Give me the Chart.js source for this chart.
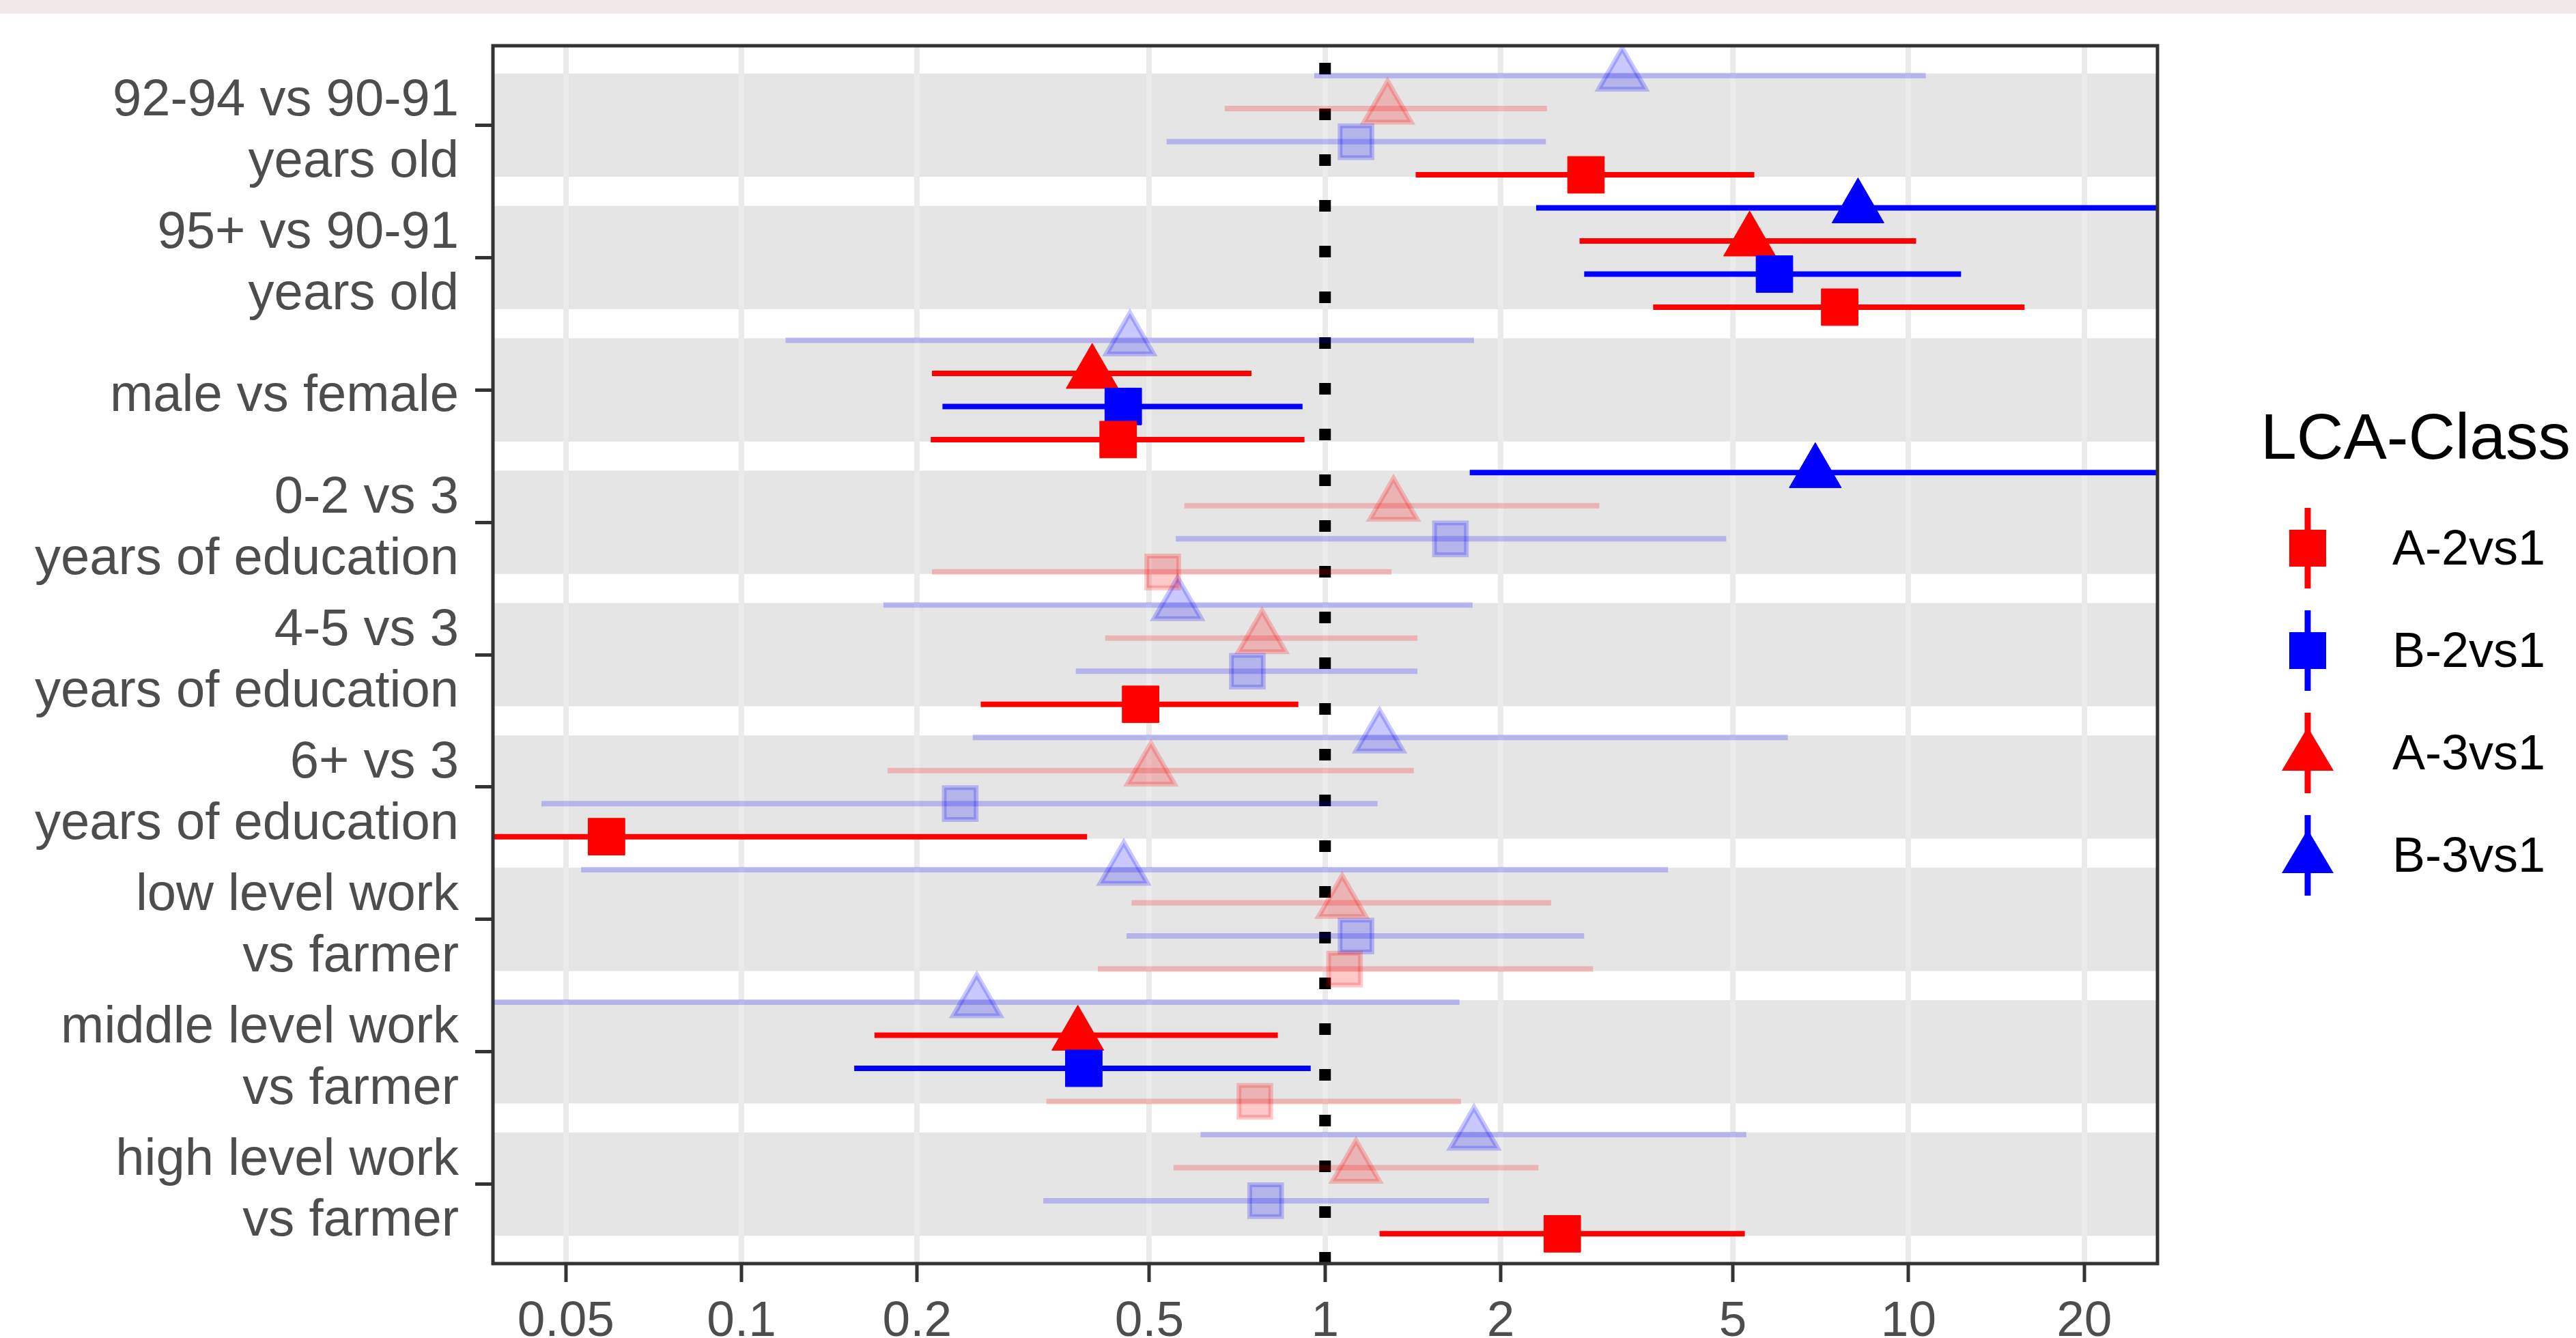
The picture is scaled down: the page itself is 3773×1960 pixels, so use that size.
<!DOCTYPE html>
<html>
<head>
<meta charset="utf-8">
<script src="https://cdn.jsdelivr.net/npm/chart.js@4.4.1/dist/chart.umd.min.js"></script>
<style>
  body { margin: 0; background: #fff; }
  canvas { display: block; }
</style>
</head>
<body>
<canvas id="forest" width="3773" height="1960"></canvas>
<script>
// categories, top to bottom
const categories = [
  ["92-94 vs 90-91", "years old"],
  ["95+ vs 90-91", "years old"],
  ["male vs female"],
  ["0-2 vs 3", "years of education"],
  ["4-5 vs 3", "years of education"],
  ["6+ vs 3", "years of education"],
  ["low level work", "vs farmer"],
  ["middle level work", "vs farmer"],
  ["high level work", "vs farmer"]
];

const xTicks = [0.05, 0.1, 0.2, 0.5, 1, 2, 5, 10, 20];

// odds ratios with 95% CI
const a2Est = [2.80, 7.62, 0.442, 0.527, 0.483, 0.0587, 1.08, 0.758, 2.55];
const a2Low = [1.43, 3.65, 0.211, 0.212, 0.257, 0.03, 0.408, 0.333, 1.24];
const a2High = [5.44, 15.8, 0.922, 1.30, 0.90, 0.391, 2.88, 1.71, 5.24];

const b2Est = [1.13, 5.89, 0.451, 1.64, 0.736, 0.237, 1.13, 0.386, 0.791];
const b2Low = [0.535, 2.78, 0.221, 0.555, 0.374, 0.0454, 0.457, 0.156, 0.329];
const b2High = [2.39, 12.3, 0.915, 4.87, 1.44, 1.23, 2.78, 0.945, 1.91];

const a3Est = [1.28, 5.34, 0.399, 1.31, 0.78, 0.503, 1.07, 0.377, 1.13];
const a3Low = [0.673, 2.73, 0.212, 0.574, 0.420, 0.178, 0.466, 0.169, 0.55];
const a3High = [2.40, 10.3, 0.748, 2.95, 1.44, 1.42, 2.44, 0.830, 2.32];

const b3Est = [3.23, 8.19, 0.463, 6.92, 0.559, 1.24, 0.452, 0.253, 1.80];
const b3Low = [0.958, 2.30, 0.119, 1.77, 0.175, 0.249, 0.0531, 0.03, 0.612];
const b3High = [10.7, 35, 1.80, 30, 1.79, 6.21, 3.87, 1.70, 5.27];

const series = [
  { name: 'A-2vs1', rgb: '255,0,0', shape: 'rect', offset: 0.375, est: a2Est, low: a2Low, high: a2High },
  { name: 'B-2vs1', rgb: '0,0,255', shape: 'rect', offset: 0.125, est: b2Est, low: b2Low, high: b2High },
  { name: 'A-3vs1', rgb: '255,0,0', shape: 'triangle', offset: -0.125, est: a3Est, low: a3Low, high: a3High },
  { name: 'B-3vs1', rgb: '0,0,255', shape: 'triangle', offset: -0.375, est: b3Est, low: b3Low, high: b3High }
];

const FONT = '"Liberation Sans", Arial, sans-serif';
const fadeAlpha = 0.21;

const isSignificant = (s, i) => s.low[i] > 1 || s.high[i] < 1;
const colorFor = (s, i, a) => `rgba(${s.rgb},${isSignificant(s, i) ? 1 : a})`;

const datasets = [];

// markers
series.forEach(s => {
  const rect = s.shape === 'rect';
  datasets.push({
    type: 'scatter',
    label: s.name,
    order: 0,
    data: s.est.map((v, i) => ({ x: v, y: i + s.offset })),
    pointStyle: s.shape,
    pointRadius: s.est.map((v, i) => isSignificant(s, i) ? (rect ? 38 : 44) : (rect ? 33 : 40)),
    pointBorderWidth: s.est.map((v, i) => isSignificant(s, i) ? 1 : 7),
    pointBackgroundColor: s.est.map((v, i) => colorFor(s, i, fadeAlpha)),
    pointBorderColor: s.est.map((v, i) => colorFor(s, i, fadeAlpha)),
  });
});

// error bars
series.forEach(s => {
  s.est.forEach((v, i) => {
    datasets.push({
      type: 'line',
      order: 1,
      clip: 0,
      data: [{ x: s.low[i], y: i + s.offset }, { x: s.high[i], y: i + s.offset }],
      borderColor: colorFor(s, i, fadeAlpha),
      borderWidth: 8,
      borderCapStyle: 'butt',
      pointRadius: 0,
    });
  });
});

const backdrop = {
  id: 'backdrop',
  beforeDraw(chart) {
    const { ctx, chartArea: area, scales: { y } } = chart;
    ctx.save();
    ctx.fillStyle = '#ffffff';
    ctx.fillRect(0, 0, chart.width, chart.height);
    ctx.fillStyle = '#f2e9ea';
    ctx.fillRect(0, 0, chart.width, 20);
    ctx.fillStyle = '#e5e5e5';
    categories.forEach((c, i) => {
      const top = y.getPixelForValue(i - 0.39);
      const bottom = y.getPixelForValue(i + 0.39);
      ctx.fillRect(area.left, top, area.right - area.left, bottom - top);
    });
    ctx.restore();
  },
  beforeDatasetsDraw(chart) {
    const { ctx, chartArea: area, scales: { x } } = chart;
    const px = x.getPixelForValue(1);
    ctx.save();
    ctx.strokeStyle = '#000';
    ctx.lineWidth = 17;
    ctx.setLineDash([17, 50]);
    ctx.beginPath();
    ctx.moveTo(px, area.bottom);
    ctx.lineTo(px, area.top);
    ctx.stroke();
    ctx.restore();
  },
  afterDraw(chart) {
    const { ctx, chartArea: area } = chart;
    ctx.save();
    ctx.strokeStyle = '#333333';
    ctx.lineWidth = 5;
    ctx.strokeRect(area.left, area.top, area.right - area.left, area.bottom - area.top);

    // legend
    ctx.fillStyle = '#000';
    ctx.font = `95px ${FONT}`;
    ctx.textBaseline = 'alphabetic';
    ctx.fillText('LCA-Class', 3311, 672);

    const keyX = 3380;
    series.forEach((s, k) => {
      const cy = 803 + k * 150;
      const col = `rgb(${s.rgb})`;
      ctx.strokeStyle = col;
      ctx.fillStyle = col;
      ctx.lineWidth = 9;
      ctx.beginPath();
      ctx.moveTo(keyX, cy - 59);
      ctx.lineTo(keyX, cy + 59);
      ctx.stroke();
      ctx.beginPath();
      if (s.shape === 'rect') {
        ctx.rect(keyX - 27, cy - 27, 54, 54);
      } else {
        ctx.moveTo(keyX, cy - 38);
        ctx.lineTo(keyX + 38, cy + 26);
        ctx.lineTo(keyX - 38, cy + 26);
        ctx.closePath();
      }
      ctx.fill();
      ctx.fillStyle = '#000';
      ctx.font = `72px ${FONT}`;
      ctx.textBaseline = 'middle';
      ctx.fillText(s.name, 3504, cy + 4);
    });
    ctx.restore();
  }
};

new Chart(document.getElementById('forest'), {
  type: 'scatter',
  data: { datasets },
  options: {
    responsive: false,
    animation: false,
    events: [],
    devicePixelRatio: 1,
    layout: { padding: { top: 67, right: 613, left: 0, bottom: 0 } },
    plugins: {
      legend: { display: false },
      tooltip: { enabled: false },
    },
    scales: {
      x: {
        type: 'logarithmic',
        position: 'bottom',
        min: 0.0375,
        max: 26.7,
        bounds: 'data',
        afterBuildTicks: scale => {
          scale.ticks = xTicks.map(v => ({ value: v }));
        },
        afterFit: scale => {
          scale.height = 109;
          scale.paddingLeft = 0;
          scale.paddingRight = 0;
        },
        grid: {
          color: '#ebebeb',
          lineWidth: 8,
          tickColor: '#333333',
          tickWidth: 5,
          tickLength: 27,
        },
        border: { display: false },
        ticks: {
          autoSkip: false,
          maxRotation: 0,
          padding: 15,
          color: '#4d4d4d',
          font: { family: FONT, size: 73 },
          callback: v => String(v),
        },
      },
      y: {
        type: 'linear',
        reverse: true,
        min: -0.6,
        max: 8.6,
        bounds: 'data',
        afterBuildTicks: scale => {
          scale.ticks = categories.map((c, i) => ({ value: i }));
        },
        afterFit: scale => {
          scale.width = 722;
          scale.paddingTop = 0;
          scale.paddingBottom = 0;
        },
        grid: {
          drawOnChartArea: false,
          tickColor: '#333333',
          tickWidth: 5,
          tickLength: 26,
        },
        border: { display: false },
        ticks: {
          autoSkip: false,
          padding: 24,
          labelOffset: 10,
          color: '#4d4d4d',
          font: { family: FONT, size: 76, lineHeight: 1.18 },
          callback: v => categories[v],
        },
      },
    },
  },
  plugins: [backdrop],
});
</script>
</body>
</html>
